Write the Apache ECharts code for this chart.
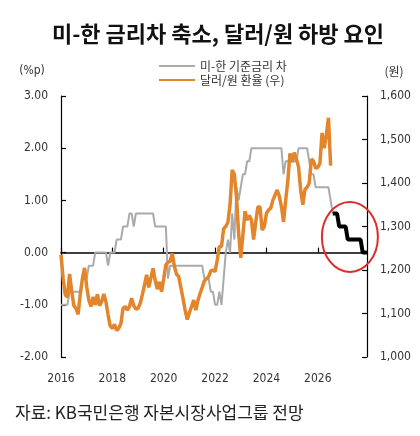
<!DOCTYPE html>
<html>
<head>
<meta charset="utf-8">
<script src="https://cdn.jsdelivr.net/npm/echarts@6/dist/echarts.min.js"></script>
<style>
  html, body { margin: 0; padding: 0; background: #fff; }
  #chart { width: 420px; height: 436px; }
</style>
</head>
<body>
<div id="chart"></div>
<script>
// 월별 데이터 (2016-01 ~ 2027-12)
const startYear = 2016;
const endYear = 2027;
const yearTicks = [2016, 2018, 2020, 2022, 2024, 2026];

// 미-한 기준금리 차 (%p), 2016-01 ~ 2026-08
const rateGap = [
  -1, -1, -1, -1, -0.75, -0.75, -0.75, -0.75, -0.75, -0.75, -0.5, -0.5,
  -0.5, -0.25, -0.25, -0.25, 0, 0, 0, 0, 0, 0, -0.25, 0,
  0, 0, 0.25, 0.25, 0.25, 0.5, 0.5, 0.5, 0.75, 0.75, 0.5, 0.75,
  0.75, 0.75, 0.75, 0.75, 0.75, 0.75, 0.75, 0.75, 0.5, 0.5, 0.5, 0.5,
  0.5, 0.5, -0.5, -0.25, -0.25, -0.25, -0.25, -0.25, -0.25, -0.25, -0.25, -0.25,
  -0.25, -0.25, -0.25, -0.25, -0.25, -0.25, -0.25, -0.5, -0.5, -0.5, -0.75, -0.75,
  -1, -1, -0.75, -1, -0.5, 0, 0.25, 0, 0.75, 0.25, 1.25, 1,
  1.25, 1.5, 1.5, 1.75, 1.75, 2, 2, 2, 2, 2, 2, 2,
  2, 2, 2, 2, 2, 2, 2, 2, 1.5, 1.75, 1.75, 1.75,
  1.75, 1.75, 1.75, 2, 2, 2, 2, 2, 1.75, 1.5, 1.5, 1.25,
  1.25, 1.25, 1.25, 1.25, 1.25, 1.25, 1, 0.75
];

// 전망 (%p), 2026-08 ~ 2027-12
const rateGapForecast = [
  0.75, 0.75, 0.75, 0.5, 0.5, 0.5, 0.5, 0.25, 0.25, 0.25, 0.25, 0.25, 0.25, 0.25, 0, 0, 0
];

// 달러/원 환율 (원), 2016-01 ~ 2026-07
const usdKrw = [
  1235, 1180, 1143, 1138, 1191, 1152, 1118, 1112, 1098, 1144, 1180, 1205,
  1162, 1131, 1116, 1138, 1120, 1144, 1118, 1127, 1145, 1127, 1097, 1071,
  1066, 1075, 1061, 1066, 1077, 1112, 1116, 1108, 1116, 1135, 1118, 1110,
  1112, 1123, 1143, 1165, 1189, 1160, 1181, 1204, 1177, 1156, 1173, 1150,
  1180, 1212, 1218, 1220, 1238, 1208, 1190, 1185, 1160, 1135, 1108, 1086,
  1102, 1116, 1131, 1108, 1130, 1146, 1160, 1175, 1180, 1185, 1198, 1200,
  1196, 1223, 1254, 1254, 1295, 1300, 1310, 1350, 1430, 1420, 1368, 1285,
  1228, 1280, 1335, 1315, 1325, 1315, 1270, 1310, 1345, 1345, 1292, 1300,
  1330, 1338, 1342, 1360, 1372, 1384, 1370, 1346, 1311, 1360, 1405, 1468,
  1448, 1470, 1455, 1437, 1384, 1350, 1385, 1390, 1400, 1455, 1450, 1434,
  1436, 1445, 1515, 1480, 1510, 1550, 1440
];

const seriesNames = ['미-한 기준금리 차', '달러/원 환율 (우)'];

const numFont = '"Liberation Sans Narrow", "DejaVu Sans Condensed", "Liberation Sans", sans-serif';
const krFont = '"Noto Sans CJK KR", sans-serif';

// 월 카테고리
const months = [];
for (let y = startYear; y <= endYear; y++) {
  for (let m = 1; m <= 12; m++) {
    months.push(y + '-' + (m < 10 ? '0' + m : m));
  }
}
const isYearTick = (i) => yearTicks.includes(Number(months[i].slice(0, 4))) && months[i].endsWith('-01');
const forecastStart = rateGap.length - 1;

const chart = echarts.init(document.getElementById('chart'));

const option = {
  animation: false,
  backgroundColor: '#fff',
  textStyle: { fontFamily: krFont },
  grid: { left: 61, right: 53, top: 96, bottom: 79 },
  legend: {
    orient: 'vertical',
    left: 153,
    top: 55,
    itemWidth: 36,
    itemHeight: 14,
    itemGap: 2,
    data: seriesNames,
    itemStyle: { opacity: 0 },
    textStyle: { fontSize: 12, color: '#333', fontFamily: krFont }
  },
  xAxis: [
    {
      type: 'category',
      data: months,
      boundaryGap: false,
      position: 'bottom',
      axisLine: { show: false, onZero: false },
      axisTick: { show: false },
      axisLabel: {
        interval: isYearTick,
        formatter: (v) => v.slice(0, 4),
        margin: 16,
        color: '#333',
        fontSize: 12,
        fontFamily: numFont
      },
      splitLine: { show: false }
    },
    {
      type: 'category',
      data: months,
      boundaryGap: false,
      position: 'bottom',
      axisLine: { show: true, onZero: true, onZeroAxisIndex: 0, lineStyle: { color: '#000', width: 1.5 } },
      axisTick: { show: true, inside: true, length: 5, interval: isYearTick, lineStyle: { color: '#000', width: 1.2 } },
      axisLabel: { show: false },
      splitLine: { show: false }
    }
  ],
  yAxis: [
    {
      type: 'value',
      min: -2,
      max: 3,
      interval: 1,
      position: 'left',
      axisLine: { show: true, lineStyle: { color: '#000', width: 1.2 } },
      axisTick: { show: true, inside: true, length: 5, lineStyle: { color: '#000', width: 1.2 } },
      axisLabel: { formatter: (v) => v.toFixed(2), margin: 13, color: '#333', fontSize: 12, fontFamily: numFont },
      splitLine: { show: false }
    },
    {
      type: 'value',
      min: 1000,
      max: 1600,
      interval: 100,
      position: 'right',
      axisLine: { show: true, lineStyle: { color: '#000', width: 1.2 } },
      axisTick: { show: true, inside: true, length: 5, lineStyle: { color: '#000', width: 1.2 } },
      axisLabel: { formatter: (v) => v.toLocaleString('en-US'), margin: 13, color: '#333', fontSize: 12, fontFamily: numFont },
      splitLine: { show: false }
    }
  ],
  series: [
    {
      name: seriesNames[0],
      type: 'line',
      xAxisIndex: 0,
      yAxisIndex: 0,
      data: rateGap,
      symbol: 'none',
      lineStyle: { color: '#aaaaaa', width: 2 },
      itemStyle: { color: '#aaaaaa' },
      z: 2
    },
    {
      name: seriesNames[1],
      type: 'line',
      xAxisIndex: 0,
      yAxisIndex: 1,
      data: usdKrw,
      symbol: 'none',
      lineStyle: { color: '#e3852a', width: 3.5 },
      itemStyle: { color: '#e3852a' },
      z: 3
    },
    {
      name: '전망',
      type: 'line',
      xAxisIndex: 0,
      yAxisIndex: 0,
      data: rateGapForecast.map((v, i) => [forecastStart + i, v]),
      symbol: 'none',
      lineStyle: { color: '#000', width: 4 },
      itemStyle: { color: '#000' },
      z: 4
    }
  ],
  graphic: [
    {
      id: 'title',
      type: 'text',
      x: 218,
      y: 34,
      style: {
        text: '미-한 금리차 축소, 달러/원 하방 요인',
        font: 'bold 22px "Noto Sans CJK KR"',
        fill: '#111',
        textAlign: 'center',
        textVerticalAlign: 'middle'
      }
    },
    {
      id: 'leftUnit',
      type: 'text',
      x: 32,
      y: 71,
      style: { text: '(%p)', font: '12px ' + numFont, fill: '#333', textAlign: 'center', textVerticalAlign: 'middle' }
    },
    {
      id: 'rightUnit',
      type: 'text',
      x: 394,
      y: 71,
      style: { text: '(원)', font: '12px "Noto Sans CJK KR"', fill: '#333', textAlign: 'center', textVerticalAlign: 'middle' }
    },
    {
      id: 'source',
      type: 'text',
      x: 15,
      y: 413,
      style: {
        text: '자료: KB국민은행 자본시장사업그룹 전망',
        font: '17px "Noto Sans CJK KR"',
        fill: '#222',
        textVerticalAlign: 'middle'
      }
    }
  ]
};

chart.setOption(option);

// 전망 구간 강조 원
const center = chart.convertToPixel({ xAxisIndex: 0, yAxisIndex: 0 }, [135, 0.3]);
chart.setOption({
  graphic: [
    {
      id: 'highlight',
      type: 'ellipse',
      shape: { cx: center[0], cy: center[1], rx: 28, ry: 35 },
      style: { fill: 'none', stroke: '#e02b2b', lineWidth: 2 },
      z: 10
    }
  ]
});
</script>
</body>
</html>
